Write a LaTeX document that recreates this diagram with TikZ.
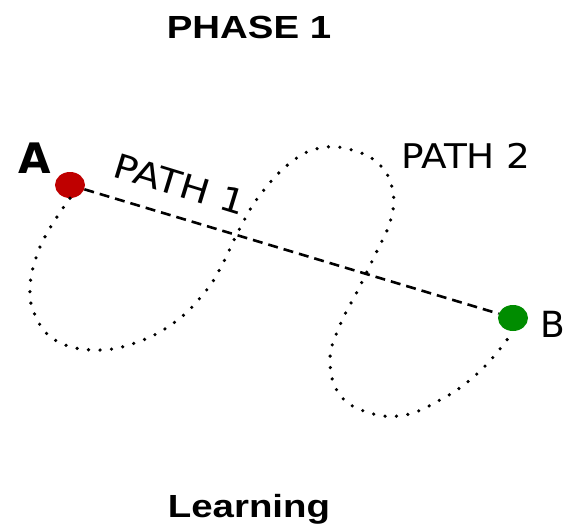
\documentclass[tikz,border=0pt]{standalone}
\usepackage{fontspec}
\setmainfont{Liberation Sans}
\newfontfamily\handfont{DejaVu Sans}
\usetikzlibrary{positioning,shapes.geometric}
\begin{document}
\begin{tikzpicture}[
    x=1pt, y=-1pt,
    title/.style={font=\fontsize{32}{36}\selectfont\bfseries, xscale=1.2, inner sep=0pt},
    hand/.style={font=\handfont\fontsize{34}{38}\selectfont, inner sep=0pt},
    spot/.style={ellipse, minimum width=30pt, minimum height=26pt, inner sep=0pt},
    direct/.style={line width=2.6pt, dash pattern=on 10pt off 6pt},
    detour/.style={line width=3.6pt, line cap=round, dash pattern=on 0pt off 11.5pt}
]
    \useasboundingbox (0,0) rectangle (567,527);

    % Titles
    \node[title] (phase) at (249,27) {PHASE 1};
    \node[title] (learn) at (249,509) {Learning};

    % End points
    \node[spot, fill=red!75!black] (dotA) at (70,185) {};
    \node[spot, fill=green!55!black] (dotB) at (513,318) {};
    \node[hand, font=\handfont\fontsize{42}{46}\selectfont\bfseries] (labA) at (35,158) {A};
    \node[hand, font=\handfont\fontsize{36}{40}\selectfont] (labB) at (553,324) {B};

    % Path 1: straight line
    \draw[direct] (dotA) -- (dotB);
    \node[hand, rotate=-17, xscale=1.15] (path1) at (180,184) {PATH 1};

    % Path 2: figure of eight
    \draw[detour] plot[smooth, tension=0.7] coordinates {
        (dotA.south) (50,228) (37,255) (30,287) (35,315) (55,340) (93,350)
        (135,343) (175,322) (205,292) (222,265) (240,228) (260,195) (290,163)
        (320,148) (352,150) (380,165) (393,192) (390,222) (375,255) (358,290)
        (340,325) (330,360) (340,395) (370,413) (405,415) (440,400) (470,380)
        (495,355) (dotB.south)};
    \node[hand, xscale=1.1] (path2) at (466,156) {PATH 2};
\end{tikzpicture}
\end{document}
